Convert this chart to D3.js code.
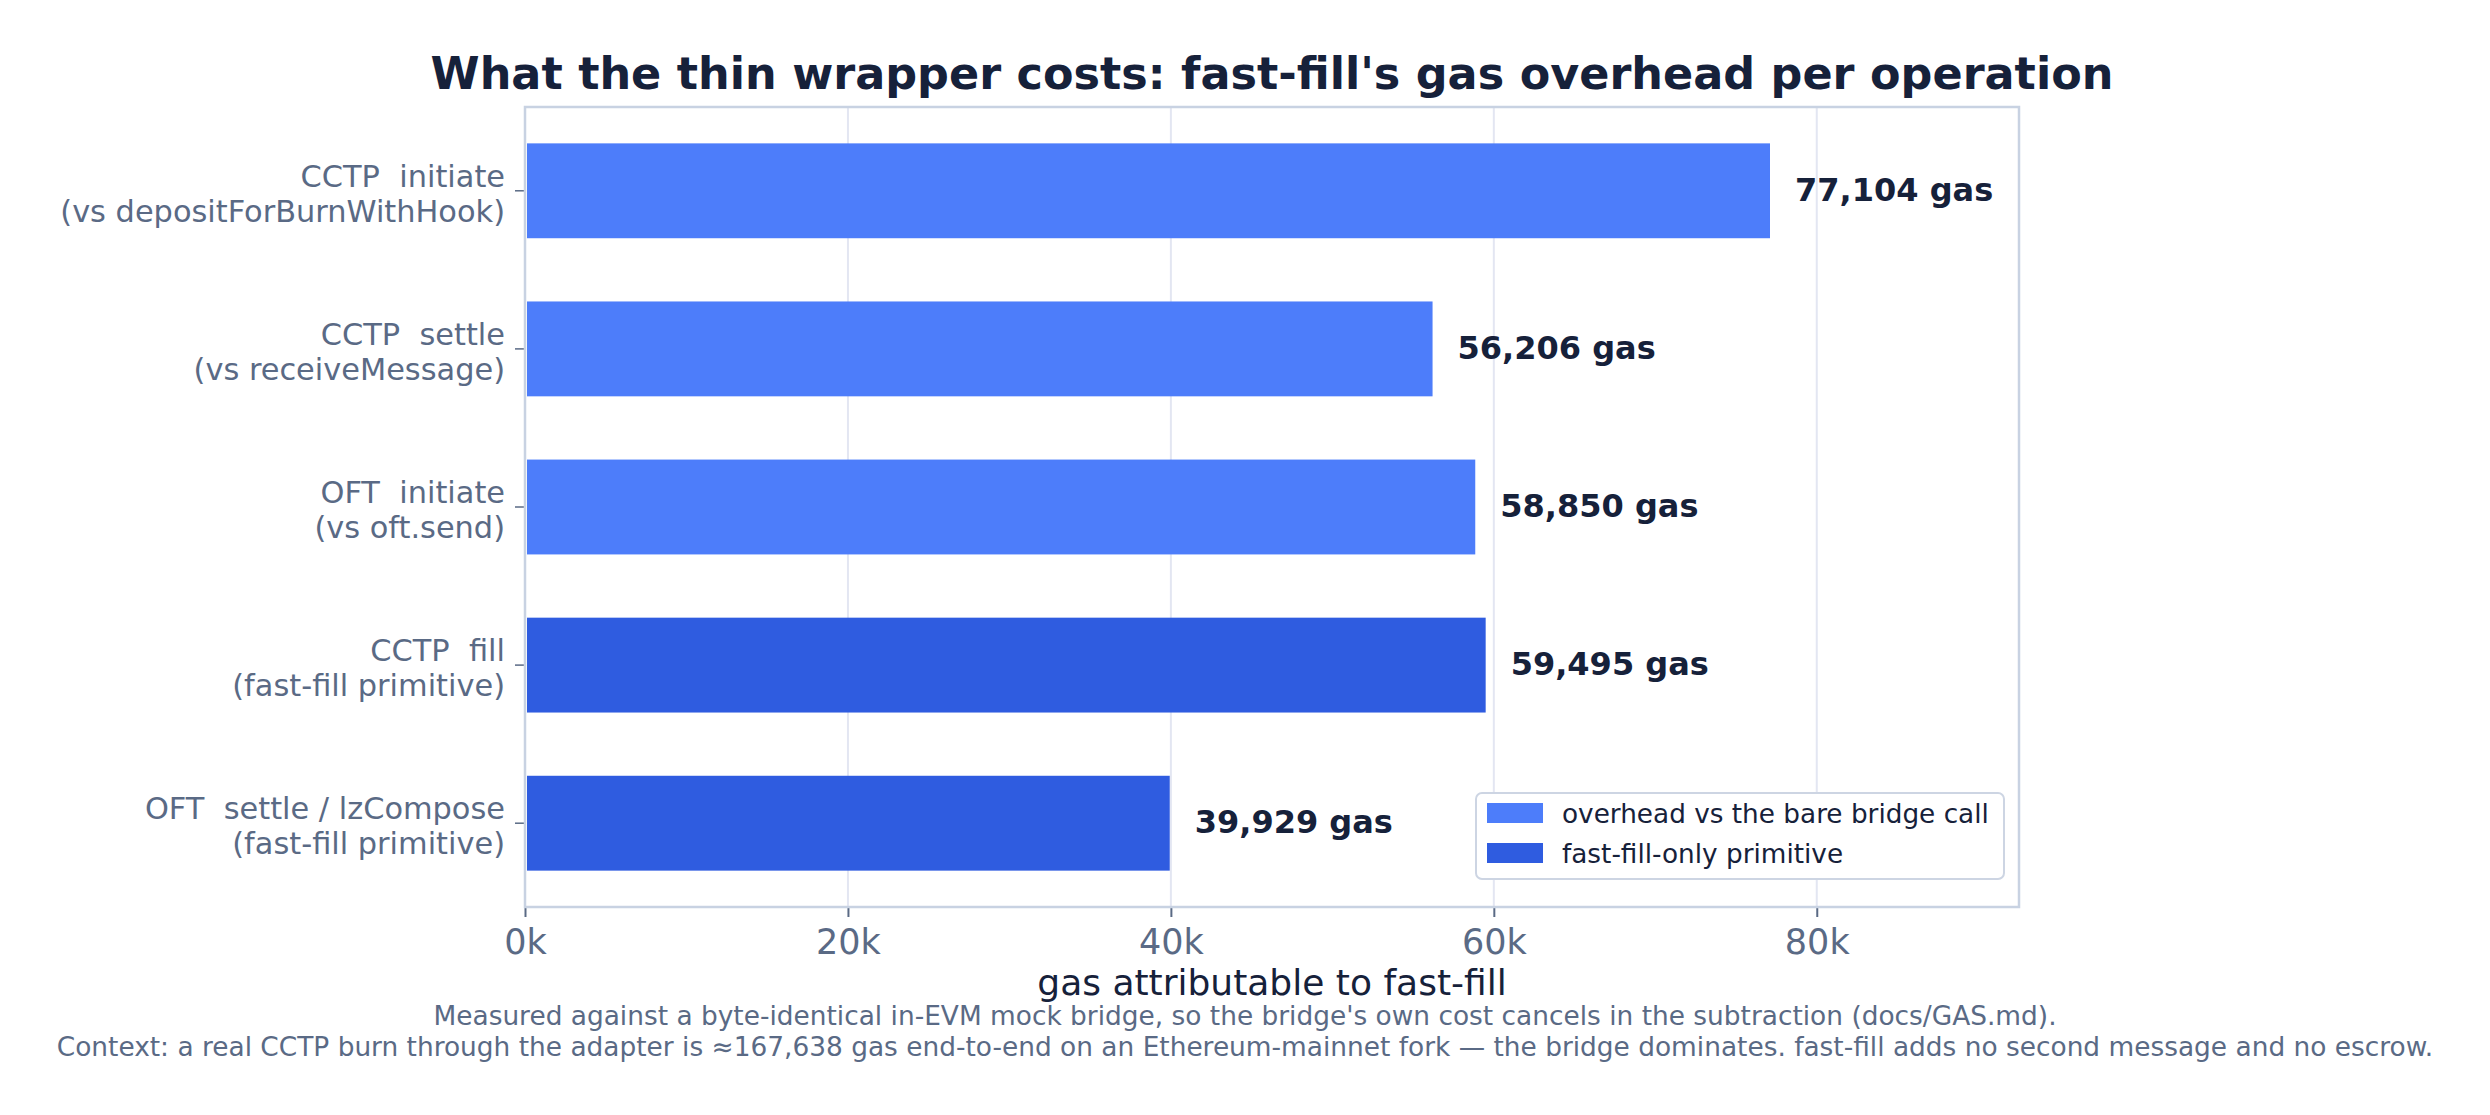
<!DOCTYPE html>
<html>
<head>
<meta charset="utf-8">
<script src="https://cdn.jsdelivr.net/npm/d3@7/dist/d3.min.js"></script>
<style>
  body { margin: 0; background: #fff; }
  text { font-family: "DejaVu Sans", sans-serif; }
</style>
</head>
<body>
<div id="chart"></div>
<script>
// data
const categories = [
    'CCTP  initiate\n(vs depositForBurnWithHook)',
    'CCTP  settle\n(vs receiveMessage)',
    'OFT  initiate\n(vs oft.send)',
    'CCTP  fill\n(fast-fill primitive)',
    'OFT  settle / lzCompose\n(fast-fill primitive)'
];
const gasValues = [77104, 56206, 58850, 59495, 39929];
const kinds = ['overhead', 'overhead', 'overhead', 'primitive', 'primitive'];
const xTicks = [0, 20000, 40000, 60000, 80000];
const legendLabels = ['overhead vs the bare bridge call', 'fast-fill-only primitive'];
const footnotes = [
    "Measured against a byte-identical in-EVM mock bridge, so the bridge's own cost cancels in the subtraction (docs/GAS.md).",
    'Context: a real CCTP burn through the adapter is \u2248167,638 gas end-to-end on an Ethereum-mainnet fork \u2014 the bridge dominates. fast-fill adds no second message and no escrow.'
];

const COLORS = {
    overhead: '#4d7dfa',
    primitive: '#2f5ce0',
    ink: '#16213a',
    muted: '#5a6a85',
    spine: '#c8d2e2',
    grid: '#e3e6f2'
};

const W = 2490, H = 1115;
const plot = { left: 525, right: 2019, top: 107, bottom: 907 };

const svg = d3.select('#chart').append('svg')
    .attr('width', W)
    .attr('height', H);

const x = d3.scaleLinear()
    .domain([0, d3.max(gasValues) * 1.2])
    .range([plot.left, plot.right]);

const y = d3.scaleBand()
    .domain(d3.range(categories.length))
    .range([plot.top, plot.bottom])
    .paddingInner(0.4)
    .paddingOuter(0.23);

// grid
svg.append('g')
    .selectAll('line')
    .data(xTicks)
    .join('line')
    .attr('x1', d => x(d)).attr('x2', d => x(d))
    .attr('y1', plot.top).attr('y2', plot.bottom)
    .attr('stroke', COLORS.grid)
    .attr('stroke-width', 2);

// bars
svg.append('g')
    .selectAll('rect')
    .data(gasValues)
    .join('rect')
    .attr('x', x(0) + 2)
    .attr('y', (d, i) => y(i))
    .attr('width', d => x(d) - x(0) - 2)
    .attr('height', y.bandwidth())
    .attr('fill', (d, i) => COLORS[kinds[i]]);

// value labels
svg.append('g')
    .selectAll('text')
    .data(gasValues)
    .join('text')
    .attr('x', d => x(d) + 25)
    .attr('y', (d, i) => y(i) + y.bandwidth() / 2 + 10)
    .attr('font-size', 32)
    .attr('font-weight', 'bold')
    .attr('fill', COLORS.ink)
    .text(d => d3.format(',')(d) + ' gas');

// x axis
const xAxis = d3.axisBottom(x)
    .tickValues(xTicks)
    .tickFormat(d => d / 1000 + 'k')
    .tickSize(10)
    .tickPadding(12);

const gx = svg.append('g')
    .attr('transform', `translate(0,${plot.bottom})`)
    .call(xAxis);
gx.select('.domain').remove();
gx.selectAll('.tick line').attr('stroke', COLORS.muted).attr('stroke-width', 2);
gx.selectAll('.tick text')
    .attr('font-size', 35)
    .attr('font-family', '"DejaVu Sans", sans-serif')
    .attr('fill', COLORS.muted);

// y axis
const gy = svg.append('g');
const yTick = gy.selectAll('g')
    .data(categories)
    .join('g')
    .attr('transform', (d, i) => `translate(0,${y(i) + y.bandwidth() / 2})`);
yTick.append('line')
    .attr('x1', plot.left - 10).attr('x2', plot.left)
    .attr('stroke', COLORS.muted)
    .attr('stroke-width', 1.5);
yTick.append('text')
    .attr('text-anchor', 'end')
    .attr('font-size', 30.4)
    .attr('fill', COLORS.muted)
    .style('white-space', 'pre')
    .selectAll('tspan')
    .data(d => d.split('\n'))
    .join('tspan')
    .attr('x', plot.left - 20)
    .attr('y', (d, j) => j === 0 ? -4 : 31)
    .text(d => d);

// frame
svg.append('rect')
    .attr('x', plot.left).attr('y', plot.top)
    .attr('width', plot.right - plot.left)
    .attr('height', plot.bottom - plot.top)
    .attr('fill', 'none')
    .attr('stroke', COLORS.spine)
    .attr('stroke-width', 2.5);

// legend
const legend = svg.append('g')
    .attr('transform', `translate(${plot.right - 543},${plot.bottom - 114})`);
legend.append('rect')
    .attr('width', 528).attr('height', 86)
    .attr('rx', 6)
    .attr('fill', '#fff')
    .attr('stroke', '#cdd5e3')
    .attr('stroke-width', 2);
const item = legend.selectAll('g')
    .data(legendLabels)
    .join('g')
    .attr('transform', (d, i) => `translate(11,${10 + i * 40})`);
item.append('rect')
    .attr('width', 56).attr('height', 20)
    .attr('fill', (d, i) => COLORS[i === 0 ? 'overhead' : 'primitive']);
item.append('text')
    .attr('x', 75).attr('y', 20)
    .attr('font-size', 26.3)
    .attr('fill', COLORS.ink)
    .text(d => d);

// title and axis label
svg.append('text')
    .attr('x', (plot.left + plot.right) / 2)
    .attr('y', 89)
    .attr('text-anchor', 'middle')
    .attr('font-size', 44.5)
    .attr('font-weight', 'bold')
    .attr('fill', COLORS.ink)
    .text("What the thin wrapper costs: fast-fill's gas overhead per operation");

svg.append('text')
    .attr('x', (plot.left + plot.right) / 2)
    .attr('y', 995)
    .attr('text-anchor', 'middle')
    .attr('font-size', 36)
    .attr('fill', COLORS.ink)
    .text('gas attributable to fast-fill');

svg.append('g')
    .selectAll('text')
    .data(footnotes)
    .join('text')
    .attr('x', W / 2)
    .attr('y', (d, i) => 1025 + i * 31)
    .attr('text-anchor', 'middle')
    .attr('font-size', 26.4)
    .attr('fill', COLORS.muted)
    .text(d => d);
</script>
</body>
</html>
